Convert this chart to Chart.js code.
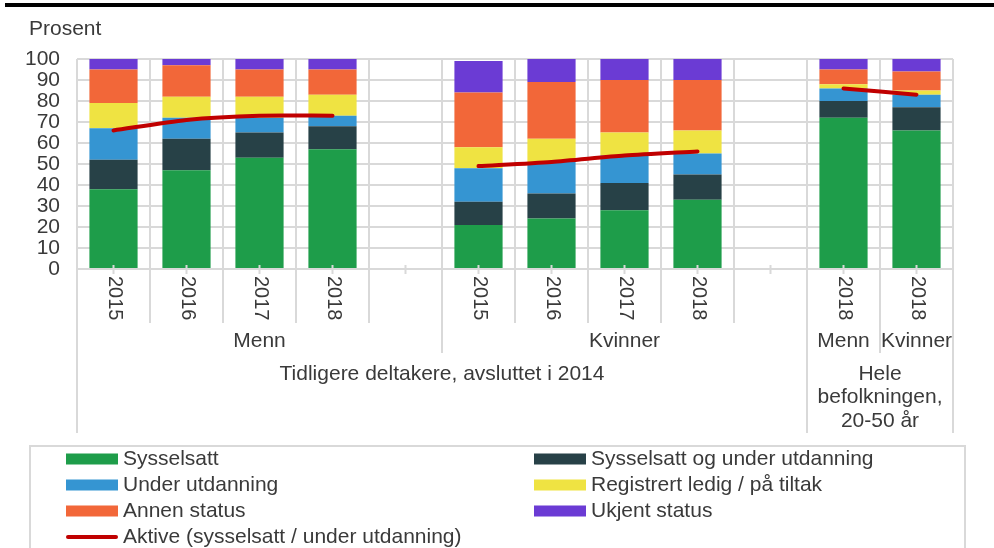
<!DOCTYPE html>
<html>
<head>
<meta charset="utf-8">
<script src="https://cdn.jsdelivr.net/npm/chart.js@4"></script>
<style>
  html, body { margin: 0; padding: 0; background: #fff; }
  #wrap { position: relative; width: 994px; height: 548px; }
</style>
</head>
<body>
<div id="wrap"><canvas id="chart" width="994" height="548"></canvas></div>
<script>
// categories (empty strings are the spacer slots between the groups)
const categories = ['2015', '2016', '2017', '2018', '', '2015', '2016', '2017', '2018', '', '2018', '2018'];

// second and third level of the x axis: [label lines, first index, last index + 1]
const groups = [
  [['Menn'], 0, 5],
  [['Kvinner'], 5, 10],
  [['Menn'], 10, 11],
  [['Kvinner'], 11, 12],
];
const supergroups = [
  [['Tidligere deltakere, avsluttet i 2014'], 0, 10],
  [['Hele', 'befolkningen,', '20-50 år'], 10, 12],
];

// series values, in percent
const sysselsatt   = [38, 47, 53, 57, null, 21, 24, 28, 33, null, 72, 66];
const sysUtdanning = [14, 15, 12, 11, null, 11, 12, 13, 12, null, 8, 11];
const underUtd     = [15, 10, 7, 5, null, 16, 15, 13, 10, null, 6, 6];
const ledig        = [12, 10, 10, 10, null, 10, 11, 11, 11, null, 2, 2];
const annen        = [16, 15, 13, 12, null, 26, 27, 25, 24, null, 7, 9];
const ukjent       = [5, 3, 5, 5, null, 15, 11, 10, 10, null, 5, 6];
const aktive       = [66, 71, 73, 73, null, 49, 51, 54, 56, null, 86, 83];

const FONT = '"Liberation Sans", Arial, sans-serif';
const textColor = '#3a3a3a';
const gridColor = '#d9d9d9';

function bar(label, data, color) {
  return {
    type: 'bar', label, data, backgroundColor: color, borderWidth: 0,
    barPercentage: 0.66, categoryPercentage: 1, order: 1,
  };
}

// draws the layered category labels, the legend and the title bits
const decorations = {
  id: 'decorations',
  afterDraw(chart) {
    const ctx = chart.ctx;
    const x = chart.scales.x;
    const area = chart.chartArea;
    const step = x.getPixelForValue(1) - x.getPixelForValue(0);
    const edge = (i) => x.getPixelForValue(i) - step / 2;

    ctx.save();
    // top rule + unit
    ctx.fillStyle = '#000';
    ctx.fillRect(5, 3, 989, 4);
    ctx.fillStyle = textColor;
    ctx.font = '21px ' + FONT;
    ctx.textBaseline = 'alphabetic';
    ctx.fillText('Prosent', 29, 35);

    // tick marks at the category centres
    ctx.strokeStyle = gridColor;
    ctx.lineWidth = 2;
    const seg = (x1, y1, x2, y2) => { ctx.beginPath(); ctx.moveTo(x1, y1); ctx.lineTo(x2, y2); ctx.stroke(); };
    categories.forEach((c, i) => {
      const cx = x.getPixelForValue(i);
      seg(cx, area.bottom - 4, cx, area.bottom + 5);
    });

    // separators below the axis
    const lvl2 = new Set(groups.flatMap((g) => [g[1], g[2]]));
    const lvl3 = new Set(supergroups.flatMap((g) => [g[1], g[2]]));
    for (let i = 0; i <= categories.length; i++) {
      const bx = edge(i);
      let bottom = area.bottom + 54;
      if (lvl3.has(i)) bottom = area.bottom + 164;
      else if (lvl2.has(i)) bottom = area.bottom + 84;
      seg(bx, area.bottom, bx, bottom);
    }

    // year labels, rotated clockwise
    ctx.fillStyle = textColor;
    ctx.font = '20px ' + FONT;
    ctx.textAlign = 'left';
    ctx.textBaseline = 'middle';
    categories.forEach((c, i) => {
      if (!c) return;
      ctx.save();
      ctx.translate(x.getPixelForValue(i) + 1, area.bottom + 7);
      ctx.rotate(Math.PI / 2);
      ctx.fillText(c, 0, 0);
      ctx.restore();
    });

    ctx.font = '21px ' + FONT;
    ctx.textAlign = 'center';
    groups.forEach(([lines, a, b]) => {
      const cx = (edge(a) + edge(b)) / 2;
      lines.forEach((t, k) => ctx.fillText(t, cx, area.bottom + 72 + k * 23));
    });
    supergroups.forEach(([lines, a, b]) => {
      const cx = (edge(a) + edge(b)) / 2;
      lines.forEach((t, k) => ctx.fillText(t, cx, area.bottom + 105 + k * 23.5));
    });

    // legend
    ctx.strokeStyle = gridColor;
    ctx.lineWidth = 2;
    ctx.strokeRect(30, 446, 935, 130);
    ctx.textAlign = 'left';
    chart.data.datasets.forEach((ds, k) => {
      const col = k % 2, row = Math.floor(k / 2);
      const sx = col ? 534 : 66;
      const cy = 459 + row * 26;
      if (ds.type === 'line') {
        ctx.strokeStyle = ds.borderColor;
        ctx.lineWidth = 4;
        ctx.lineCap = 'round';
        seg(sx + 2, cy, sx + 50, cy);
      } else {
        ctx.fillStyle = ds.backgroundColor;
        ctx.fillRect(sx, cy - 5.5, 52, 11);
      }
      ctx.fillStyle = textColor;
      ctx.fillText(ds.label, sx + 57, cy);
    });
    ctx.restore();
  },
};

new Chart(document.getElementById('chart'), {
  data: {
    labels: categories,
    datasets: [
      bar('Sysselsatt', sysselsatt, '#1e9d4a'),
      bar('Sysselsatt og under utdanning', sysUtdanning, '#274147'),
      bar('Under utdanning', underUtd, '#3595d2'),
      bar('Registrert ledig / på tiltak', ledig, '#efe342'),
      bar('Annen status', annen, '#f26739'),
      bar('Ukjent status', ukjent, '#6b3bd4'),
      {
        type: 'line', label: 'Aktive (sysselsatt / under utdanning)', data: aktive,
        borderColor: '#c00000', backgroundColor: '#c00000', borderWidth: 4,
        borderCapStyle: 'round', pointRadius: 0, tension: 0.25, spanGaps: false,
        stack: 'aktive', order: 0,
      },
    ],
  },
  options: {
    responsive: false,
    devicePixelRatio: 1,
    animation: false,
    layout: { padding: { top: 59, right: 41, left: 0, bottom: 0 } },
    plugins: { legend: { display: false }, tooltip: { enabled: false } },
    scales: {
      x: {
        stacked: true,
        ticks: { display: false },
        grid: { color: gridColor, lineWidth: 2, offset: true, drawTicks: false },
        border: { color: gridColor, width: 2 },
        afterFit(s) { s.height = 279; },
      },
      y: {
        stacked: true,
        min: 0,
        max: 100,
        ticks: {
          stepSize: 10, autoSkip: false, color: textColor,
          font: { family: FONT, size: 21 }, padding: 17,
        },
        grid: { color: gridColor, lineWidth: 2, drawTicks: false },
        border: { display: false },
        afterFit(s) { s.width = 77; },
      },
    },
  },
  plugins: [decorations],
});
</script>
</body>
</html>
